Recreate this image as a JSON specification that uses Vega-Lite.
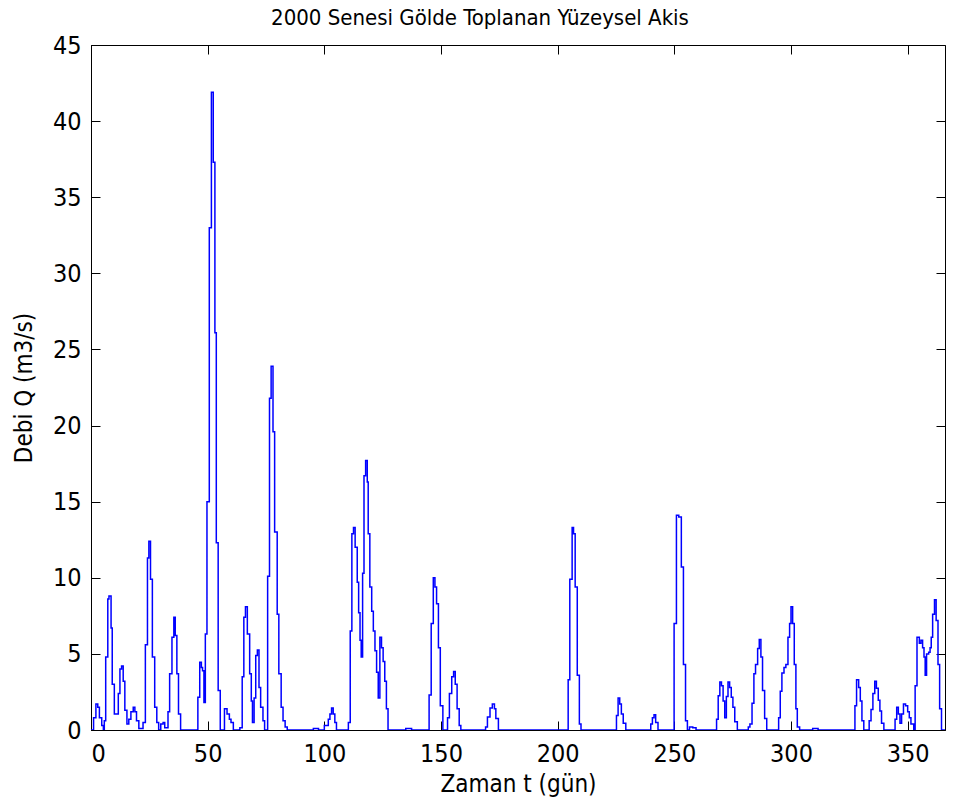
{
  "$schema": "https://vega.github.io/schema/vega-lite/v6.json",
  "width": 854,
  "height": 685,
  "autosize": {"type": "none"},
  "padding": {"left": 91, "top": 45, "right": 16, "bottom": 79},
  "background": "white",
  "title": {
    "text": "2000 Senesi Gölde Toplanan Yüzeysel Akis",
    "font": "DejaVu Sans Condensed, Liberation Sans",
    "fontSize": 22,
    "fontWeight": "normal",
    "color": "black",
    "anchor": "middle",
    "offset": 3,
    "dx": -38
  },
  "config": {
    "view": {"stroke": "black", "strokeWidth": 1},
    "axis": {
      "labelFont": "DejaVu Sans Condensed, Liberation Sans",
      "labelFontSize": 25,
      "labelColor": "black",
      "titleFont": "DejaVu Sans Condensed, Liberation Sans",
      "titleFontSize": 24,
      "titleFontWeight": "normal",
      "titleColor": "black",
      "domainColor": "black",
      "tickColor": "black",
      "tickSize": -9,
      "grid": false,
      "zindex": 1
    }
  },
  "data": {
    "values": [
      {"t": 0, "Q": 0}, {"t": 1.1, "Q": 0.8}, {"t": 2.1, "Q": 1.7}, {"t": 2.9, "Q": 1.5}, {"t": 3.6, "Q": 0.8},
      {"t": 4.6, "Q": 0.3}, {"t": 5.3, "Q": 0}, {"t": 5.7, "Q": 0.6}, {"t": 6.3, "Q": 4.8}, {"t": 7.2, "Q": 8.6},
      {"t": 7.7, "Q": 8.8}, {"t": 8.6, "Q": 6.7}, {"t": 9.1, "Q": 3.0}, {"t": 10.0, "Q": 1.05}, {"t": 11.7, "Q": 2.4},
      {"t": 12.4, "Q": 4.0}, {"t": 13.1, "Q": 4.2}, {"t": 13.8, "Q": 3.2}, {"t": 14.5, "Q": 1.3}, {"t": 15.4, "Q": 0.4},
      {"t": 16.2, "Q": 0.7}, {"t": 17.1, "Q": 1.2}, {"t": 18.1, "Q": 1.5}, {"t": 18.8, "Q": 1.2}, {"t": 19.5, "Q": 0.6},
      {"t": 20.5, "Q": 0.1}, {"t": 22.3, "Q": 0.5}, {"t": 23.3, "Q": 5.6}, {"t": 24.2, "Q": 11.3}, {"t": 24.8, "Q": 12.4},
      {"t": 25.5, "Q": 9.9}, {"t": 26.3, "Q": 4.8}, {"t": 27.3, "Q": 1.5}, {"t": 28.2, "Q": 0.5}, {"t": 29.0, "Q": 0},
      {"t": 29.9, "Q": 0.4}, {"t": 30.9, "Q": 0.5}, {"t": 31.6, "Q": 0.15}, {"t": 33.0, "Q": 1.2}, {"t": 33.7, "Q": 3.7},
      {"t": 34.7, "Q": 6.1}, {"t": 35.5, "Q": 7.4}, {"t": 36.1, "Q": 6.2}, {"t": 36.8, "Q": 3.7}, {"t": 37.5, "Q": 1.05},
      {"t": 38.4, "Q": 0}, {"t": 45.8, "Q": 2.15}, {"t": 46.6, "Q": 4.45}, {"t": 47.3, "Q": 4.1}, {"t": 47.8, "Q": 3.9},
      {"t": 48.4, "Q": 1.8}, {"t": 49.0, "Q": 6.3}, {"t": 49.7, "Q": 15.0}, {"t": 50.7, "Q": 33.0}, {"t": 51.6, "Q": 41.9},
      {"t": 52.4, "Q": 37.3}, {"t": 53.1, "Q": 26.1}, {"t": 53.7, "Q": 12.3}, {"t": 54.5, "Q": 2.6}, {"t": 55.4, "Q": 0},
      {"t": 57.2, "Q": 1.4}, {"t": 58.3, "Q": 1.05}, {"t": 59.3, "Q": 0.7}, {"t": 60.0, "Q": 0.5}, {"t": 61.0, "Q": 0},
      {"t": 63.8, "Q": 0.15}, {"t": 64.8, "Q": 3.5}, {"t": 65.5, "Q": 7.4}, {"t": 66.2, "Q": 8.1}, {"t": 67.0, "Q": 6.3},
      {"t": 68.0, "Q": 3.7}, {"t": 68.7, "Q": 1.9}, {"t": 69.2, "Q": 0.5}, {"t": 69.9, "Q": 2.1}, {"t": 70.6, "Q": 4.9},
      {"t": 71.3, "Q": 5.25}, {"t": 72.0, "Q": 2.8}, {"t": 72.7, "Q": 1.5}, {"t": 73.7, "Q": 0.6}, {"t": 74.4, "Q": 0},
      {"t": 75.7, "Q": 10.1}, {"t": 76.5, "Q": 21.8}, {"t": 77.2, "Q": 23.9}, {"t": 78.0, "Q": 19.6}, {"t": 78.7, "Q": 13.0},
      {"t": 79.8, "Q": 7.6}, {"t": 80.5, "Q": 3.7}, {"t": 81.5, "Q": 1.5}, {"t": 82.3, "Q": 0.6}, {"t": 83.2, "Q": 0.2},
      {"t": 84.1, "Q": 0}, {"t": 95.3, "Q": 0.1}, {"t": 97.5, "Q": 0}, {"t": 100.0, "Q": 0.3}, {"t": 101.7, "Q": 0.7},
      {"t": 102.4, "Q": 1.05}, {"t": 103.1, "Q": 1.45}, {"t": 103.8, "Q": 1.05}, {"t": 104.5, "Q": 0.5}, {"t": 105.2, "Q": 0},
      {"t": 110.3, "Q": 0.5}, {"t": 111.1, "Q": 6.5}, {"t": 111.8, "Q": 12.9}, {"t": 112.5, "Q": 13.3}, {"t": 113.2, "Q": 12.0},
      {"t": 114.1, "Q": 9.7}, {"t": 114.7, "Q": 7.7}, {"t": 115.3, "Q": 5.9}, {"t": 115.8, "Q": 4.8}, {"t": 116.4, "Q": 10.3},
      {"t": 117.0, "Q": 16.7}, {"t": 117.7, "Q": 17.7}, {"t": 118.4, "Q": 16.3}, {"t": 118.8, "Q": 12.9}, {"t": 119.5, "Q": 9.4},
      {"t": 120.3, "Q": 7.8}, {"t": 121.0, "Q": 6.5}, {"t": 121.7, "Q": 5.2}, {"t": 122.4, "Q": 3.8}, {"t": 123.1, "Q": 2.1},
      {"t": 123.8, "Q": 6.1}, {"t": 124.5, "Q": 5.4}, {"t": 125.2, "Q": 4.5}, {"t": 125.9, "Q": 3.2}, {"t": 126.6, "Q": 1.4},
      {"t": 127.3, "Q": 0}, {"t": 134.9, "Q": 0.1}, {"t": 137.4, "Q": 0}, {"t": 144.9, "Q": 2.3}, {"t": 145.8, "Q": 7.0},
      {"t": 146.7, "Q": 10.0}, {"t": 147.4, "Q": 9.4}, {"t": 148.1, "Q": 8.3}, {"t": 148.9, "Q": 5.4}, {"t": 149.7, "Q": 1.6},
      {"t": 150.8, "Q": 0}, {"t": 152.8, "Q": 0.8}, {"t": 153.6, "Q": 2.4}, {"t": 154.6, "Q": 3.5}, {"t": 155.4, "Q": 3.85},
      {"t": 156.1, "Q": 3.0}, {"t": 156.9, "Q": 1.4}, {"t": 157.8, "Q": 0.3}, {"t": 158.5, "Q": 0}, {"t": 169.1, "Q": 0.2},
      {"t": 169.9, "Q": 0.85}, {"t": 171.0, "Q": 1.45}, {"t": 172.0, "Q": 1.7}, {"t": 172.9, "Q": 1.4}, {"t": 173.5, "Q": 0.75},
      {"t": 174.6, "Q": 0}, {"t": 204.5, "Q": 3.3}, {"t": 205.2, "Q": 9.9}, {"t": 206.2, "Q": 13.3}, {"t": 206.8, "Q": 12.9},
      {"t": 207.5, "Q": 9.4}, {"t": 208.4, "Q": 3.6}, {"t": 209.3, "Q": 0.4}, {"t": 210.0, "Q": 0}, {"t": 225.2, "Q": 0.95},
      {"t": 225.9, "Q": 2.1}, {"t": 226.6, "Q": 1.7}, {"t": 227.3, "Q": 1.05}, {"t": 228.1, "Q": 0.45}, {"t": 229.2, "Q": 0},
      {"t": 239.9, "Q": 0.4}, {"t": 240.6, "Q": 0.8}, {"t": 241.3, "Q": 1.0}, {"t": 242.0, "Q": 0.5}, {"t": 243.0, "Q": 0},
      {"t": 249.9, "Q": 7.0}, {"t": 250.9, "Q": 14.1}, {"t": 251.9, "Q": 14.0}, {"t": 253.0, "Q": 10.7}, {"t": 253.9, "Q": 4.3},
      {"t": 254.8, "Q": 0.6}, {"t": 255.6, "Q": 0}, {"t": 256.5, "Q": 0.2}, {"t": 257.9, "Q": 0.15}, {"t": 259.3, "Q": 0},
      {"t": 268.1, "Q": 0.7}, {"t": 268.8, "Q": 2.25}, {"t": 269.5, "Q": 3.15}, {"t": 270.2, "Q": 2.9}, {"t": 270.9, "Q": 1.9},
      {"t": 271.6, "Q": 0.8}, {"t": 272.3, "Q": 2.2}, {"t": 273.0, "Q": 3.15}, {"t": 273.7, "Q": 2.8}, {"t": 274.4, "Q": 2.15},
      {"t": 275.1, "Q": 1.5}, {"t": 275.9, "Q": 0.55}, {"t": 277.0, "Q": 0}, {"t": 281.7, "Q": 0.2}, {"t": 282.4, "Q": 0.4},
      {"t": 283.3, "Q": 1.75}, {"t": 284.1, "Q": 3.7}, {"t": 284.8, "Q": 4.3}, {"t": 285.7, "Q": 5.35}, {"t": 286.4, "Q": 5.95},
      {"t": 287.1, "Q": 4.8}, {"t": 287.8, "Q": 2.6}, {"t": 288.7, "Q": 0.75}, {"t": 289.6, "Q": 0}, {"t": 294.7, "Q": 0.8},
      {"t": 295.4, "Q": 2.55}, {"t": 296.1, "Q": 3.75}, {"t": 297.0, "Q": 4.1}, {"t": 297.8, "Q": 4.3}, {"t": 298.7, "Q": 6.1},
      {"t": 299.4, "Q": 7.0}, {"t": 300.0, "Q": 8.1}, {"t": 300.7, "Q": 7.0}, {"t": 301.4, "Q": 4.3}, {"t": 302.1, "Q": 1.4},
      {"t": 302.7, "Q": 0.2}, {"t": 303.7, "Q": 0}, {"t": 309.3, "Q": 0.1}, {"t": 311.6, "Q": 0}, {"t": 327.4, "Q": 1.6},
      {"t": 328.1, "Q": 3.3}, {"t": 329.0, "Q": 2.8}, {"t": 329.7, "Q": 1.9}, {"t": 330.4, "Q": 0.6}, {"t": 331.2, "Q": 0},
      {"t": 333.5, "Q": 0.6}, {"t": 334.3, "Q": 1.35}, {"t": 335.1, "Q": 2.4}, {"t": 335.9, "Q": 3.2}, {"t": 336.6, "Q": 2.75},
      {"t": 337.4, "Q": 1.95}, {"t": 338.1, "Q": 1.25}, {"t": 338.8, "Q": 0.45}, {"t": 339.8, "Q": 0}, {"t": 344.6, "Q": 0.7},
      {"t": 345.3, "Q": 1.5}, {"t": 346.0, "Q": 1.05}, {"t": 346.7, "Q": 0.45}, {"t": 347.4, "Q": 1.05}, {"t": 348.2, "Q": 1.7},
      {"t": 349.1, "Q": 1.6}, {"t": 350.0, "Q": 1.2}, {"t": 350.7, "Q": 0.8}, {"t": 351.4, "Q": 0.4}, {"t": 352.6, "Q": 0},
      {"t": 353.2, "Q": 2.9}, {"t": 354.0, "Q": 6.1}, {"t": 355.0, "Q": 5.7}, {"t": 355.7, "Q": 5.9}, {"t": 356.4, "Q": 5.4},
      {"t": 357.0, "Q": 4.8}, {"t": 357.5, "Q": 3.6}, {"t": 358.1, "Q": 5.0}, {"t": 359.0, "Q": 5.1}, {"t": 359.6, "Q": 5.4},
      {"t": 360.1, "Q": 6.1}, {"t": 360.7, "Q": 7.6}, {"t": 361.5, "Q": 8.55}, {"t": 362.2, "Q": 7.2}, {"t": 363.0, "Q": 4.3},
      {"t": 363.7, "Q": 1.4}, {"t": 364.5, "Q": 0}, {"t": 366, "Q": 0}
    ]
  },
  "layer": [
    {
      "mark": {"type": "line", "interpolate": "step-after", "color": "#0000ff", "strokeWidth": 1.5, "clip": true},
      "encoding": {
        "x": {
          "field": "t", "type": "quantitative",
          "scale": {"domain": [0, 366], "nice": false, "zero": false},
          "axis": {"orient": "bottom", "values": [0, 50, 100, 150, 200, 250, 300, 350], "title": "Zaman t (gün)", "labelPadding": 20, "titlePadding": 6}
        },
        "y": {
          "field": "Q", "type": "quantitative",
          "scale": {"domain": [0, 45], "nice": false},
          "axis": {"orient": "left", "values": [0, 5, 10, 15, 20, 25, 30, 35, 40, 45], "title": "Debi Q (m3/s)", "labelPadding": 19, "titlePadding": 16}
        }
      }
    },
    {
      "mark": {"type": "line", "opacity": 0},
      "encoding": {
        "x": {
          "field": "t", "type": "quantitative",
          "axis": {"orient": "top", "values": [0, 50, 100, 150, 200, 250, 300, 350], "labels": false, "title": null, "domain": false}
        },
        "y": {
          "field": "Q", "type": "quantitative",
          "axis": {"orient": "right", "values": [0, 5, 10, 15, 20, 25, 30, 35, 40, 45], "labels": false, "title": null, "domain": false}
        }
      }
    }
  ],
  "resolve": {"axis": {"x": "independent", "y": "independent"}}
}
